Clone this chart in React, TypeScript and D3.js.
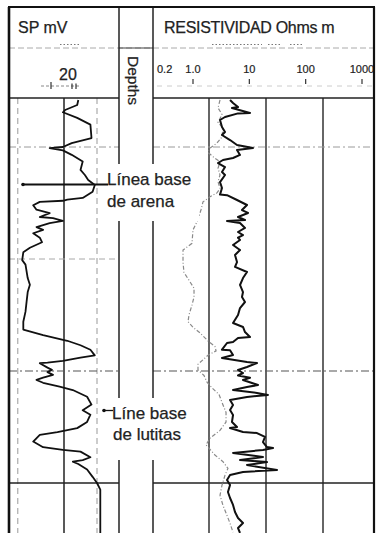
import React from "react";
import * as d3 from "d3";

// ---------- data (depth in ft, SP in mV, resistivity in ohm·m) ----------
const spDepth = [4958, 4962.5, 4967, 4969, 4974, 4980, 4992, 4996.5, 5000, 5001, 5003, 5007, 5013, 5020.5, 5025, 5029.5, 5034, 5040, 5045.5, 5047, 5048, 5049, 5052, 5056, 5059, 5062.5, 5063.5, 5066, 5068, 5071.5, 5074, 5077, 5081, 5085, 5090, 5094, 5101, 5105, 5117, 5123, 5129.5, 5138, 5147, 5156, 5163, 5168, 5173, 5177, 5181, 5186, 5188, 5191, 5192.5, 5193, 5197, 5199, 5201, 5203.5, 5206, 5208, 5210.5, 5214, 5217, 5223, 5230, 5235, 5239, 5245.5, 5251, 5254.5, 5257, 5263, 5268, 5270.5, 5272, 5277, 5279.5, 5281, 5283, 5288, 5294.5, 5300, 5306, 5311, 5345];
const spValues = [-17, -18, -29, -31, -18, -6, -5, -23, -31, -43, -31, -23, -13, -15, -11, -8, -2, -4, -13, -27, -31, -52, -58, -55, -43, -52, -40, -31, -43, -55, -49, -58, -52, -50, -61, -67, -68, -65, -63, -61, -63, -64, -65, -67, -67, -49, -27, -15, -6, -2, -15, -31, -45, -52, -45, -41, -45, -40, -49, -55, -49, -34, -22, -9, -5, -13, -6, -9, -18, -36, -52, -58, -49, -31, -15, -6, -13, -22, -17, -9, -4, 0, 3, 3, 3];

const deepDepth = [4958, 4960.7, 4964.3, 4965.2, 4969.6, 4970, 4973.2, 4975.9, 4982.1, 4986.6, 4989.3, 4993.8, 4998.2, 5000.9, 5002.7, 5007.1, 5009.8, 5011.6, 5014.3, 5017.9, 5022.3, 5025, 5031.3, 5036.6, 5042.5, 5043, 5047.3, 5051.8, 5056.3, 5058.9, 5062.5, 5065.2, 5066.1, 5067.9, 5072.3, 5075.9, 5078.6, 5081, 5083, 5087.5, 5092, 5096.4, 5102.7, 5107.1, 5111.6, 5117, 5123.2, 5129.5, 5133.9, 5138.4, 5143.8, 5150, 5157.1, 5160.7, 5165.2, 5169.6, 5170.5, 5174.1, 5175, 5181, 5181.5, 5185.7, 5188.4, 5192, 5192.9, 5196.4, 5199.1, 5201.8, 5204, 5206, 5208, 5210.7, 5212.5, 5214.3, 5217, 5219.6, 5221.4, 5223.2, 5225.9, 5230.4, 5234.8, 5239.3, 5245.5, 5250, 5250.9, 5254.5, 5255.4, 5258.9, 5263.4, 5267.9, 5268.8, 5270.5, 5273.2, 5276.8, 5279.5, 5281.3, 5283.9, 5288.4, 5290.2, 5292.9, 5297.3, 5301.8, 5308, 5313.4, 5319.6, 5325.9, 5331.3, 5335.7, 5340.2, 5344.6];
const deepRes = [2.34, 2.64, 3.23, 2.53, 5.24, 3.23, 1.91, 1.56, 1.69, 1.91, 1.69, 2.34, 3.1, 5.91, 3.1, 3.5, 2.64, 1.76, 1.44, 1.91, 1.69, 1.91, 1.56, 1.69, 1.56, 2.07, 3.1, 4.64, 3.79, 4.83, 3.23, 4.28, 2.07, 3.5, 4.28, 3.23, 3.95, 3.23, 3.5, 2.64, 3.5, 2.86, 3.1, 2.86, 4.64, 3.95, 3.5, 3.95, 3.79, 4.28, 3.5, 3.23, 2.64, 3.95, 4.28, 5.24, 3.23, 2.64, 2.07, 1.69, 2.34, 2.64, 1.69, 4.64, 6.95, 4.64, 3.23, 3.95, 3.23, 5.24, 3.95, 5.68, 7.24, 4.64, 2.64, 6.95, 10.8, 4.64, 2.34, 2.64, 2.34, 2.64, 2.53, 3.1, 2.34, 3.95, 6.95, 9.6, 8.85, 10.4, 13.3, 8.85, 2.64, 8.85, 3.5, 10.4, 4.64, 15.6, 3.95, 2.34, 2.07, 2.34, 2.15, 2.34, 2.64, 2.86, 3.23, 3.95, 3.23, 3.5];

const shallowDepth = [4958, 4965, 4971, 4978, 4983, 4991, 4996.5, 5001, 5005, 5010, 5013, 5019, 5025, 5031, 5037, 5041, 5044.5, 5049, 5056, 5065, 5074, 5086, 5092, 5103, 5112, 5119, 5126, 5134, 5141, 5150, 5156, 5161, 5166, 5174, 5178, 5182, 5186, 5190, 5194, 5199, 5204, 5210, 5215, 5221, 5228, 5237, 5245.5, 5253, 5260, 5266, 5275, 5281, 5287, 5293, 5302, 5311, 5320, 5329, 5336, 5344];
const shallowRes = [1.56, 1.44, 1.69, 1.44, 1.76, 1.69, 1.38, 1.04, 0.96, 1.27, 1.56, 1.44, 1.56, 1.44, 1.56, 1.38, 1.04, 0.785, 0.724, 0.641, 0.524, 0.503, 0.35, 0.35, 0.364, 0.446, 0.546, 0.546, 0.503, 0.446, 0.428, 0.524, 0.695, 1.0, 1.27, 1.33, 0.96, 0.785, 0.641, 0.641, 0.817, 0.923, 1.13, 1.5, 1.69, 1.99, 1.99, 1.56, 1.04, 0.886, 1.27, 1.76, 2.15, 1.91, 1.69, 1.56, 1.76, 2.07, 2.34, 2.64];

const depthGrid = [5000, 5100, 5200, 5300];
const spGridSolid = [-30];
const spGridDashed = [-72, 0];
const resGrid = [1, 10, 100];
const resTickValues = [1, 10, 100, 1000];
const resTickLabels = ["1.0", "10", "100", "1000"];
const spHeaderLabel = "20";

// ---------- layout ----------
const W = 376;
const H = 533;
const TOP = 7;
const HEAD_BOTTOM = 98;
const SP_LEFT = 9;
const SP_RIGHT = 119;
const RES_LEFT = 153;
const RES_RIGHT = 374;
const FONT = "'Liberation Sans', Arial, sans-serif";

const depthY = d3.scaleLinear().domain([5000, 5300]).range([147, 483]);
const spX = d3.scaleLinear().domain([-80, 20]).range([SP_LEFT, SP_RIGHT]);
const resX = d3.scaleLog().domain([1, 100]).range([209, 323]);
const resHeadX = d3.scaleLog().domain([1, 1000]).range([193, 362]);

const spLine = d3
  .line<number>()
  .x((_, i) => spX(spValues[i]))
  .y((d) => depthY(d));
const deepLine = d3
  .line<number>()
  .x((_, i) => resX(deepRes[i]))
  .y((d) => depthY(d));
const shallowLine = d3
  .line<number>()
  .x((_, i) => resX(shallowRes[i]))
  .y((d) => depthY(d));

const gridStyle = (d: number) => {
  if (d === 5000) return { stroke: "#9a9a9a", dash: "7 3 2 3", w: 1 };
  if (d === 5100) return { stroke: "#a8a8a8", dash: "6 4", w: 1 };
  if (d === 5200) return { stroke: "#555", dash: "8 3 2 3", w: 1.1 };
  return { stroke: "#222", dash: undefined, w: 1.4 };
};

const txt = { fill: "#222", stroke: "#222", strokeWidth: 0.25 };

export default function App() {
  return (
    <svg
      width={W}
      height={H}
      style={{ position: "absolute", left: 0, top: 0, display: "block", background: "#fff" }}
      fontFamily={FONT}
    >
      <defs>
        <clipPath id="spClip">
          <rect x={SP_LEFT} y={HEAD_BOTTOM} width={SP_RIGHT - SP_LEFT} height={H - HEAD_BOTTOM} />
        </clipPath>
        <clipPath id="resClip">
          <rect x={RES_LEFT} y={HEAD_BOTTOM} width={RES_RIGHT - RES_LEFT} height={H - HEAD_BOTTOM} />
        </clipPath>
      </defs>
      <rect x={0} y={0} width={W} height={H} fill="#fff" />

      {/* ---------- header ---------- */}
      <line x1={SP_LEFT} x2={RES_RIGHT} y1={48} y2={48} stroke="#aaa" strokeDasharray="6 3" />
      <line x1={SP_RIGHT} x2={RES_LEFT} y1={48} y2={48} stroke="#444" strokeWidth={1.2} />
      <text x={18} y={33} fontSize={16} {...txt}>SP mV</text>
      <text x={164} y={33} fontSize={16} {...txt} letterSpacing={-0.3}>RESISTIVIDAD Ohms m</text>
      <line x1={60} x2={79} y1={44.5} y2={44.5} stroke="#777" strokeDasharray="1.5 2" />
      <line x1={212} x2={262} y1={44.5} y2={44.5} stroke="#777" strokeDasharray="1.5 2" />
      <line x1={268} x2={282} y1={44.5} y2={44.5} stroke="#777" strokeDasharray="1.5 2" />
      <line x1={290} x2={302} y1={44.5} y2={44.5} stroke="#777" strokeDasharray="1.5 2" />

      <text x={68} y={80} fontSize={16} textAnchor="middle" {...txt}>{spHeaderLabel}</text>
      <line x1={41} x2={79} y1={86} y2={86} stroke="#888" strokeDasharray="3 2" />
      {[51, 72, 76].map((x, i) => (
        <line key={i} x1={x} x2={x} y1={i === 0 ? 82 : 83.5} y2={89} stroke="#333" strokeWidth={1.2} />
      ))}

      <text x={157} y={73} fontSize={11} {...txt} strokeWidth={0.2}>0.2</text>
      {resTickValues.map((v, i) => (
        <g key={v}>
          <text x={resHeadX(v)} y={73} fontSize={11} textAnchor="middle" {...txt} strokeWidth={0.2}>
            {resTickLabels[i]}
          </text>
          <line x1={resHeadX(v)} x2={resHeadX(v)} y1={79} y2={84} stroke="#333" strokeWidth={1.2} />
        </g>
      ))}
      <line x1={157} x2={RES_RIGHT} y1={86} y2={86} stroke="#ccc" strokeDasharray="5 5" />

      <text transform={`translate(128,56) rotate(90)`} fontSize={15.5} {...txt}>Depths</text>

      {/* ---------- body grid ---------- */}
      {spGridDashed.map((v) => (
        <line key={v} x1={spX(v)} x2={spX(v)} y1={HEAD_BOTTOM} y2={H} stroke="#999" strokeDasharray="6 4" />
      ))}
      {spGridSolid.map((v) => (
        <line key={v} x1={spX(v)} x2={spX(v)} y1={HEAD_BOTTOM} y2={H} stroke="#222" strokeWidth={1.5} />
      ))}
      {resGrid.map((v) => (
        <line key={v} x1={resX(v)} x2={resX(v)} y1={HEAD_BOTTOM} y2={H} stroke="#333" strokeWidth={1.5} />
      ))}
      {depthGrid.map((d) => {
        const s = gridStyle(d);
        return (
          <g key={d}>
            <line x1={SP_LEFT} x2={SP_RIGHT} y1={depthY(d)} y2={depthY(d)} stroke={s.stroke} strokeWidth={s.w} strokeDasharray={s.dash} />
            {d !== 5100 && (
              <line x1={RES_LEFT} x2={RES_RIGHT} y1={depthY(d)} y2={depthY(d)} stroke={s.stroke} strokeWidth={s.w} strokeDasharray={s.dash} />
            )}
          </g>
        );
      })}

      {/* ---------- curves ---------- */}
      <g clipPath="url(#resClip)">
        <path d={shallowLine(shallowDepth) || ""} fill="none" stroke="#8a8a8a" strokeWidth={1.2} strokeDasharray="4 2 1 2" />
        <path d={deepLine(deepDepth) || ""} fill="none" stroke="#111" strokeWidth={2} strokeLinejoin="round" />
      </g>
      <g clipPath="url(#spClip)">
        <path d={spLine(spDepth) || ""} fill="none" stroke="#111" strokeWidth={1.8} strokeLinejoin="round" />
      </g>

      {/* ---------- frame ---------- */}
      <line x1={SP_RIGHT} x2={SP_RIGHT} y1={TOP} y2={H} stroke="#222" strokeWidth={1.5} />
      <line x1={RES_LEFT} x2={RES_LEFT} y1={TOP} y2={H} stroke="#222" strokeWidth={1.5} />
      <line x1={SP_LEFT} x2={SP_RIGHT} y1={HEAD_BOTTOM} y2={HEAD_BOTTOM} stroke="#222" strokeWidth={1.5} />
      <line x1={RES_LEFT} x2={RES_RIGHT} y1={HEAD_BOTTOM} y2={HEAD_BOTTOM} stroke="#222" strokeWidth={1.5} />
      <line x1={SP_LEFT - 1} x2={RES_RIGHT + 1} y1={TOP} y2={TOP} stroke="#111" strokeWidth={2.2} />
      <line x1={SP_LEFT} x2={SP_LEFT} y1={TOP} y2={H} stroke="#111" strokeWidth={2.6} />
      <line x1={RES_RIGHT} x2={RES_RIGHT} y1={TOP} y2={H} stroke="#111" strokeWidth={2.2} />

      {/* ---------- annotations ---------- */}
      <rect x={104} y={164} width={95} height={57} fill="#fff" />
      <line x1={22} x2={108} y1={184.5} y2={184.5} stroke="#111" strokeWidth={1.8} />
      <circle cx={23} cy={184.5} r={1.8} fill="#111" />
      <text x={107} y={185} fontSize={17} {...txt}>Línea base</text>
      <text x={107} y={207} fontSize={17} {...txt}>de arena</text>

      <rect x={104} y={398} width={91} height={62} fill="#fff" />
      <circle cx={104} cy={410.5} r={1.8} fill="#111" />
      <line x1={104} x2={113} y1={410.5} y2={410.5} stroke="#111" strokeWidth={1.3} />
      <text x={112} y={419} fontSize={17} {...txt}>Líne base</text>
      <text x={113} y={440} fontSize={17} {...txt}>de lutitas</text>
    </svg>
  );
}
